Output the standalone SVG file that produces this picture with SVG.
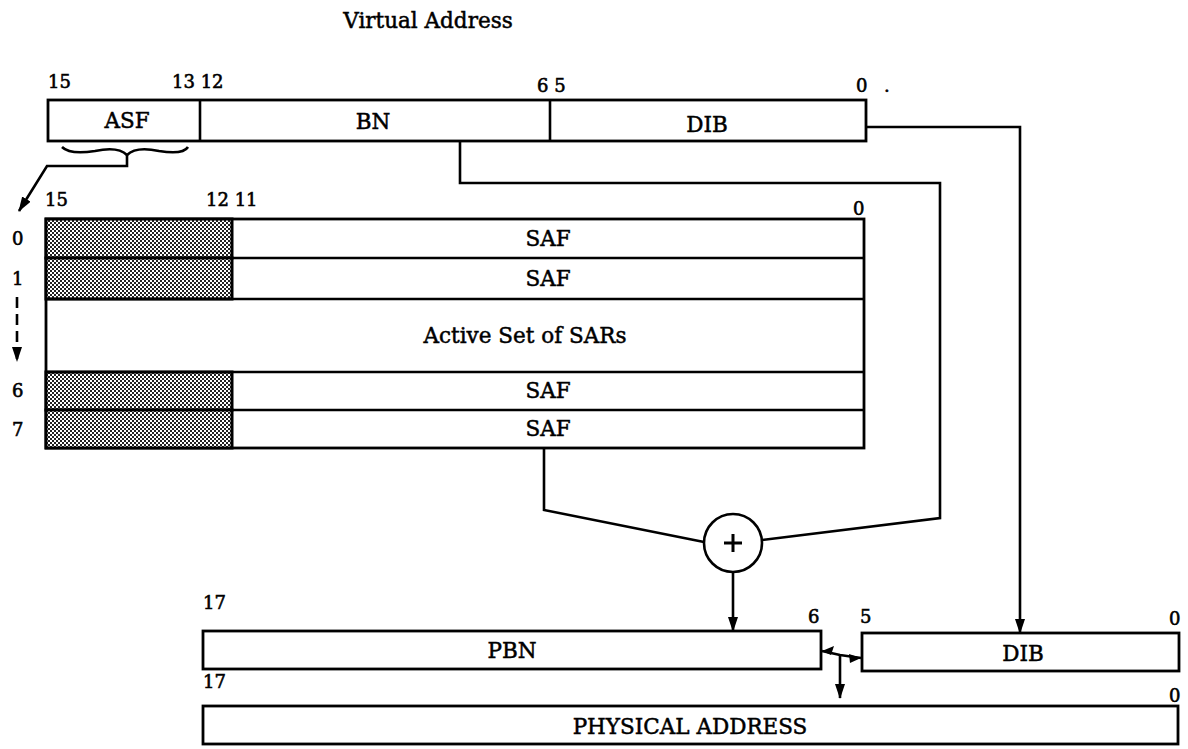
<svg xmlns="http://www.w3.org/2000/svg" width="1188" height="749" viewBox="0 0 1188 749">
<defs>
<pattern id="stip" width="4" height="4" patternUnits="userSpaceOnUse">
<rect width="4" height="4" fill="#fff"/>
<rect x="0" y="0" width="2" height="2" fill="#222"/>
<rect x="2" y="2" width="2" height="2" fill="#222"/>
</pattern>
<marker id="ah" viewBox="0 0 15 10" refX="14" refY="5" markerWidth="15" markerHeight="10" markerUnits="userSpaceOnUse" orient="auto">
<path d="M0,0 L15,5 L0,10 z" fill="#000"/>
</marker>
</defs>
<style>
text{font-family:"DejaVu Serif","Liberation Serif",serif;fill:#000;font-size:21.5px;stroke:#000;stroke-width:0.5}
.n{font-size:18px;stroke-width:0.6}
.c{text-anchor:middle}
.box{fill:#fff;stroke:#000;stroke-width:2.8}
.sh{fill:url(#stip);stroke:#000;stroke-width:3}
.ln{fill:none;stroke:#000;stroke-width:2.6}
</style>

<text x="428" y="28" class="c" id="title">Virtual Address</text>

<g id="virtual-address">
<rect class="box" x="48" y="100" width="818" height="41"/>
<line class="ln" x1="200" y1="100" x2="200" y2="141"/>
<line class="ln" x1="550" y1="100" x2="550" y2="141"/>
<text x="127" y="128" class="c">ASF</text>
<text x="373" y="129" class="c">BN</text>
<text x="707" y="132" class="c">DIB</text>
<text x="48" y="88" class="n">15</text>
<text x="172" y="88" class="n">13 12</text>
<text x="537" y="92" class="n">6 5</text>
<text x="856" y="92" class="n">0</text>
<text x="884" y="92" class="n">.</text>
</g>

<g id="asf-brace">
<path class="ln" d="M62,147 Q70,155 95,151 Q118,146 127,155 Q136,146 159,151 Q183,155 188,147" stroke-width="2"/>
</g>

<g id="sar-table">
<rect class="box" x="46" y="219" width="818" height="229" stroke-width="3"/>
<rect class="sh" x="46" y="219" width="186" height="39"/>
<rect class="sh" x="46" y="258" width="186" height="41"/>
<rect class="sh" x="46" y="372" width="186" height="38"/>
<rect class="sh" x="46" y="410" width="186" height="38"/>
<line class="ln" x1="232" y1="258" x2="864" y2="258"/>
<line class="ln" x1="46" y1="299" x2="864" y2="299"/>
<line class="ln" x1="46" y1="372" x2="864" y2="372"/>
<line class="ln" x1="232" y1="410" x2="864" y2="410"/>
<text x="548" y="246" class="c">SAF</text>
<text x="548" y="286" class="c">SAF</text>
<text x="525" y="343" class="c">Active Set of SARs</text>
<text x="548" y="398" class="c">SAF</text>
<text x="548" y="436" class="c">SAF</text>
<text x="45" y="206" class="n">15</text>
<text x="206" y="206" class="n">12 11</text>
<text x="853" y="215" class="n">0</text>
<text x="12" y="245" class="n">0</text>
<text x="12" y="285" class="n">1</text>
<text x="12" y="397" class="n">6</text>
<text x="12" y="436" class="n">7</text>
</g>

<g id="adder">
<circle cx="733" cy="543" r="29" fill="#fff" stroke="#000" stroke-width="2.6"/>
<path d="M724,543 H742 M733,534 V552" stroke="#000" stroke-width="3"/>
</g>

<g id="pbn">
<rect class="box" x="203" y="631" width="618" height="38"/>
<text x="512" y="658" class="c">PBN</text>
<text x="203" y="609" class="n">17</text>
<text x="808" y="623" class="n">6</text>
</g>

<g id="dib-out">
<rect class="box" x="862" y="633" width="317" height="38"/>
<text x="1023" y="661" class="c">DIB</text>
<text x="860" y="623" class="n">5</text>
<text x="1169" y="625" class="n">0</text>
</g>

<g id="physical-address">
<rect class="box" x="203" y="706" width="975" height="38"/>
<text x="690" y="734" class="c">PHYSICAL ADDRESS</text>
<text x="203" y="688" class="n">17</text>
<text x="1169" y="702" class="n">0</text>
</g>

<g id="connectors">
<polyline class="ln" points="127,155 127,166 47,166 19,211" marker-end="url(#ah)"/>
<line class="ln" x1="17" y1="297" x2="17" y2="361" stroke-width="3" stroke-dasharray="11,6" marker-end="url(#ah)"/>
<polyline class="ln" points="460,141 460,183 940,183 940,518 762,540"/>
<polyline class="ln" points="544,448 544,510 704,542"/>
<line class="ln" x1="733" y1="572" x2="733" y2="631" marker-end="url(#ah)"/>
<polyline class="ln" points="866,127 1020,127 1020,633" marker-end="url(#ah)"/>
<polyline class="ln" points="822,651 840,655 861,658" stroke-width="3"/>
<path d="M822,651 L834,646 L831,655 z" fill="#000"/>
<path d="M861,658 L849,654 L850,663 z" fill="#000"/>
<line class="ln" x1="840" y1="655" x2="840" y2="698" marker-end="url(#ah)"/>
</g>
</svg>
